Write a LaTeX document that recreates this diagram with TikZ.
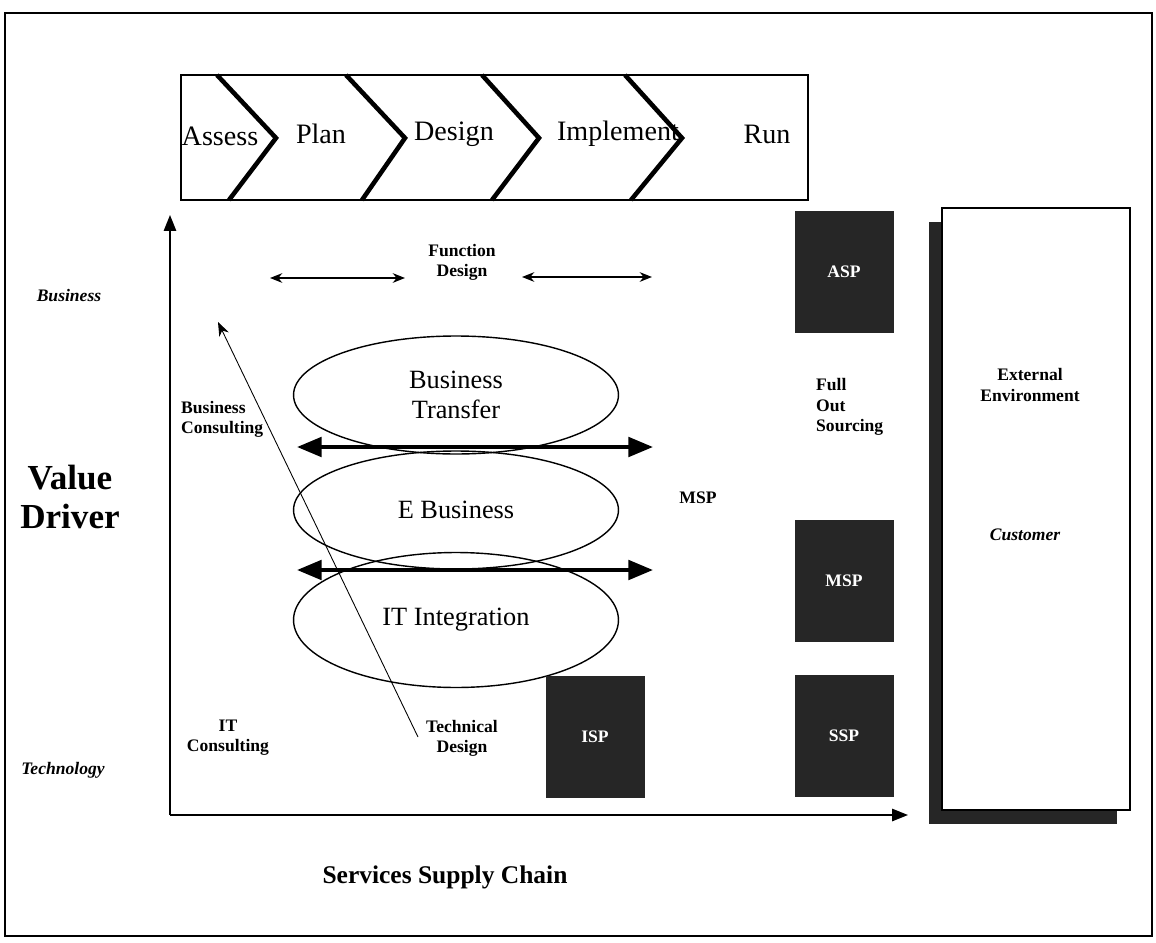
\documentclass[tikz,border=0pt]{standalone}
\usepackage{fontspec}
\setmainfont{Liberation Serif}
\usepackage{tikz}
\usetikzlibrary{arrows.meta,positioning,shapes.geometric,shadows}

\begin{document}
\begin{tikzpicture}[x=0.02cm,y=-0.02cm,>=Stealth,
    phase/.style={font=\fontsize{16}{18}\selectfont},
    chev/.style={line width=2.6pt},
    tag/.style={font=\fontsize{10}{11.5}\selectfont\bfseries, align=center},
    level/.style={font=\fontsize{10}{11.5}\selectfont\bfseries\itshape},
    layer/.style={ellipse, draw, line width=0.8pt, minimum width=6.5cm,
        minimum height=2.36cm, inner sep=0pt, align=center,
        font=\fontsize{15}{17}\selectfont},
    provider/.style={fill=black!85, draw=black!85, minimum width=1.96cm,
        minimum height=2.42cm, inner sep=0pt, text=white,
        font=\fontsize{10}{11}\selectfont\bfseries},
    axis/.style={line width=0.9pt, -{Triangle[length=9pt,width=7pt]}},
    span/.style={line width=0.7pt, {Stealth[length=7pt,width=5.5pt]}-{Stealth[length=7pt,width=5.5pt]}},
    bigspan/.style={line width=2.3pt, {Triangle[length=14pt,width=11pt]}-{Triangle[length=14pt,width=11pt]}}]
    \useasboundingbox (0,0) rectangle (1156,943);

    % frame
    \draw[line width=0.8pt] (5,13) rectangle (1152,936);

    % process bar
    \draw[line width=0.9pt] (181,75) rectangle (808,200);
    \draw[chev] (217,75) -- (276,138) -- (229,200);
    \draw[chev] (346,75) -- (405,138) -- (362,200);
    \draw[chev] (482,75) -- (539,138) -- (492,200);
    \draw[chev] (625,75) -- (682,138) -- (631,200);

    \node[phase] (assess) at (220,136) {Assess};
    \node[phase] (plan) at (321,134) {Plan};
    \node[phase] (design) at (454,134) {Design};
    \node[phase] (implement) at (618,134) {Implement};
    \node[phase] (run) at (767,134) {Run};

    % axes
    \coordinate (origin) at (170,815);
    \coordinate (ytip) at (170,215);
    \coordinate (xtip) at (908,815);
    \draw[axis] (origin) -- (ytip);
    \draw[axis] (origin) -- (xtip);

    \node[level] (bizlvl) at (69,296) {Business};
    \node[level] (techlvl) at (63,770) {Technology};
    \node[font=\fontsize{20}{22}\selectfont\bfseries, align=center] (value) at (70,497) {Value\\Driver};
    \node[font=\fontsize{14.5}{17}\selectfont\bfseries] (supply) at (445,877) {Services Supply Chain};

    % function design
    \node[tag] (fdesign) at (462,262) {Function\\Design};
    \coordinate (fd1a) at (270,278);
    \coordinate (fd1b) at (405,278);
    \coordinate (fd2a) at (522,277);
    \coordinate (fd2b) at (652,277);
    \draw[span] (fd1a) -- (fd1b);
    \draw[span] (fd2a) -- (fd2b);

    % layers
    \node[layer] (bt) at (456,395) {Business\\Transfer};
    \node[layer] (eb) at (456,510) {E Business};
    \node[layer, minimum height=2.7cm] (iti) at (456,620) {IT Integration};

    \coordinate (b1a) at (297,447);
    \coordinate (b1b) at (653,447);
    \coordinate (b2a) at (297,570);
    \coordinate (b2b) at (653,570);
    \draw[bigspan] (b1a) -- (b1b);
    \draw[bigspan] (b2a) -- (b2b);

    \node[tag, align=left, anchor=west] (bizcons) at (175,419) {Business\\Consulting};
    \node[tag] (itcons) at (228,738) {IT\\Consulting};
    \node[tag] (techdes) at (462,738) {Technical\\Design};

    \coordinate (dstart) at (418,737);
    \coordinate (dend) at (218,322);
    \draw[line width=0.5pt, -{Stealth[length=8pt,width=6pt]}] (dstart) -- (dend);

    \node[tag] (msplbl) at (698,498) {MSP};
    \node[tag, align=left, anchor=west] (fos) at (810,407) {Full\\Out\\Sourcing};

    % providers
    \node[provider] (asp) at (844,272) {ASP};
    \node[provider] (msp) at (844,581) {MSP};
    \node[provider] (ssp) at (844,736) {SSP};
    \node[provider] (isp) at (595,737) {ISP};

    % external environment
    \node[draw, line width=1pt, fill=white, minimum width=3.76cm, minimum height=12.04cm,
        drop shadow={shadow xshift=-0.26cm, shadow yshift=-0.28cm, fill=black!85, opacity=1}]
        (ext) at (1036,509) {};
    \node[tag] (extenv) at (1030,385) {External\\Environment};
    \node[level] (customer) at (1025,535) {Customer};
\end{tikzpicture}
\end{document}
